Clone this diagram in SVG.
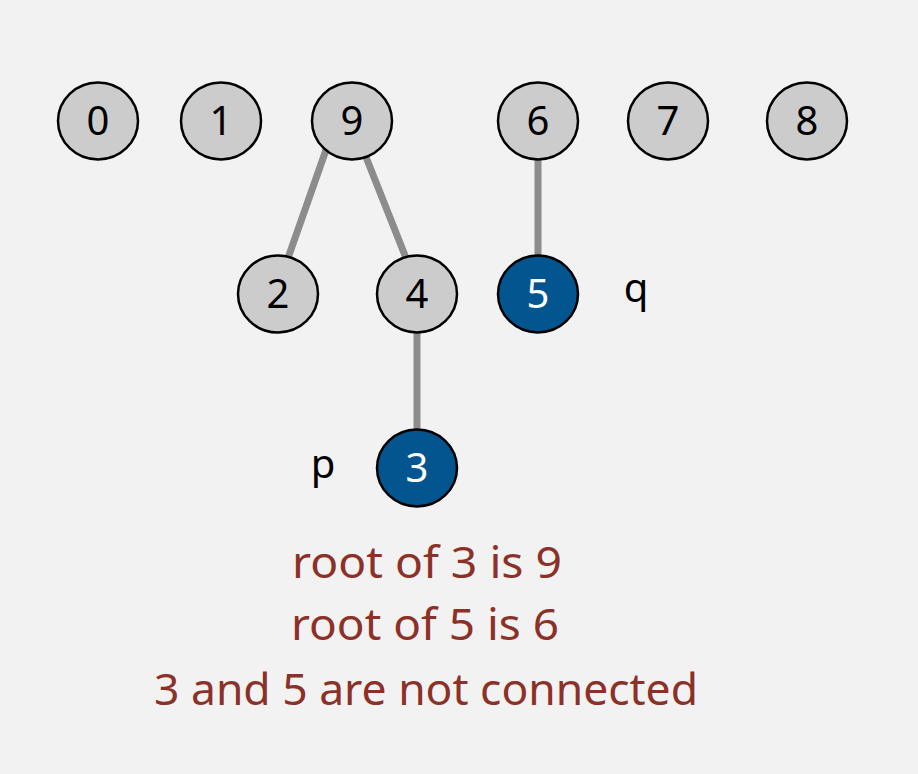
<svg xmlns="http://www.w3.org/2000/svg" width="918" height="774" viewBox="0 0 918 774">
<style>
.bg{fill:#f2f2f2}
.n{fill:#cccccc;stroke:#000;stroke-width:2.5}
.h{fill:#03558f;stroke:#000;stroke-width:2.5}
.t{font-family:"Noto Sans","DejaVu Sans",sans-serif;font-size:40px;text-anchor:middle;fill:#000}
.w{fill:#fff}
.e{stroke:#8c8c8c;stroke-width:7;fill:none}
.m{font-family:"Noto Sans","DejaVu Sans",sans-serif;font-size:43px;text-anchor:middle;fill:#8b3127}
</style>
<rect class="bg" width="918" height="774"/>
<g id="edges">
<line class="e" x1="326" y1="150" x2="288" y2="258"/>
<line class="e" x1="364" y1="152" x2="406" y2="258"/>
<line class="e" x1="538" y1="160" x2="538" y2="256"/>
<line class="e" x1="417" y1="333" x2="417" y2="430"/>
</g>
<g id="node0"><ellipse class="n" cx="98" cy="121" rx="40" ry="38.5"/><text class="t" x="98" y="135">0</text></g>
<g id="node1"><ellipse class="n" cx="221" cy="121" rx="40" ry="38.5"/><text class="t" x="221" y="135">1</text></g>
<g id="node9"><ellipse class="n" cx="352" cy="121" rx="40" ry="38.5"/><text class="t" x="352" y="135">9</text></g>
<g id="node6"><ellipse class="n" cx="538" cy="121" rx="40" ry="38.5"/><text class="t" x="538" y="135">6</text></g>
<g id="node7"><ellipse class="n" cx="668" cy="121" rx="40" ry="38.5"/><text class="t" x="668" y="135">7</text></g>
<g id="node8"><ellipse class="n" cx="807" cy="121" rx="40" ry="38.5"/><text class="t" x="807" y="135">8</text></g>
<g id="node2"><ellipse class="n" cx="278" cy="294" rx="40" ry="38.5"/><text class="t" x="278" y="308">2</text></g>
<g id="node4"><ellipse class="n" cx="417" cy="294" rx="40" ry="38.5"/><text class="t" x="417" y="308">4</text></g>
<g id="node5"><ellipse class="h" cx="538" cy="294" rx="40" ry="38.5"/><text class="t w" x="538" y="308">5</text></g>
<g id="node3"><ellipse class="h" cx="417" cy="468" rx="40" ry="38.5"/><text class="t w" x="417" y="482">3</text></g>
<g id="labels">
<text class="t" x="636" y="302">q</text>
<text class="t" x="323" y="478">p</text>
<text class="m" x="427" y="578" textLength="270" lengthAdjust="spacingAndGlyphs">root of 3 is 9</text>
<text class="m" x="425" y="640" textLength="268" lengthAdjust="spacingAndGlyphs">root of 5 is 6</text>
<text class="m" x="426" y="705" textLength="544" lengthAdjust="spacingAndGlyphs">3 and 5 are not connected</text>
</g>
</svg>
